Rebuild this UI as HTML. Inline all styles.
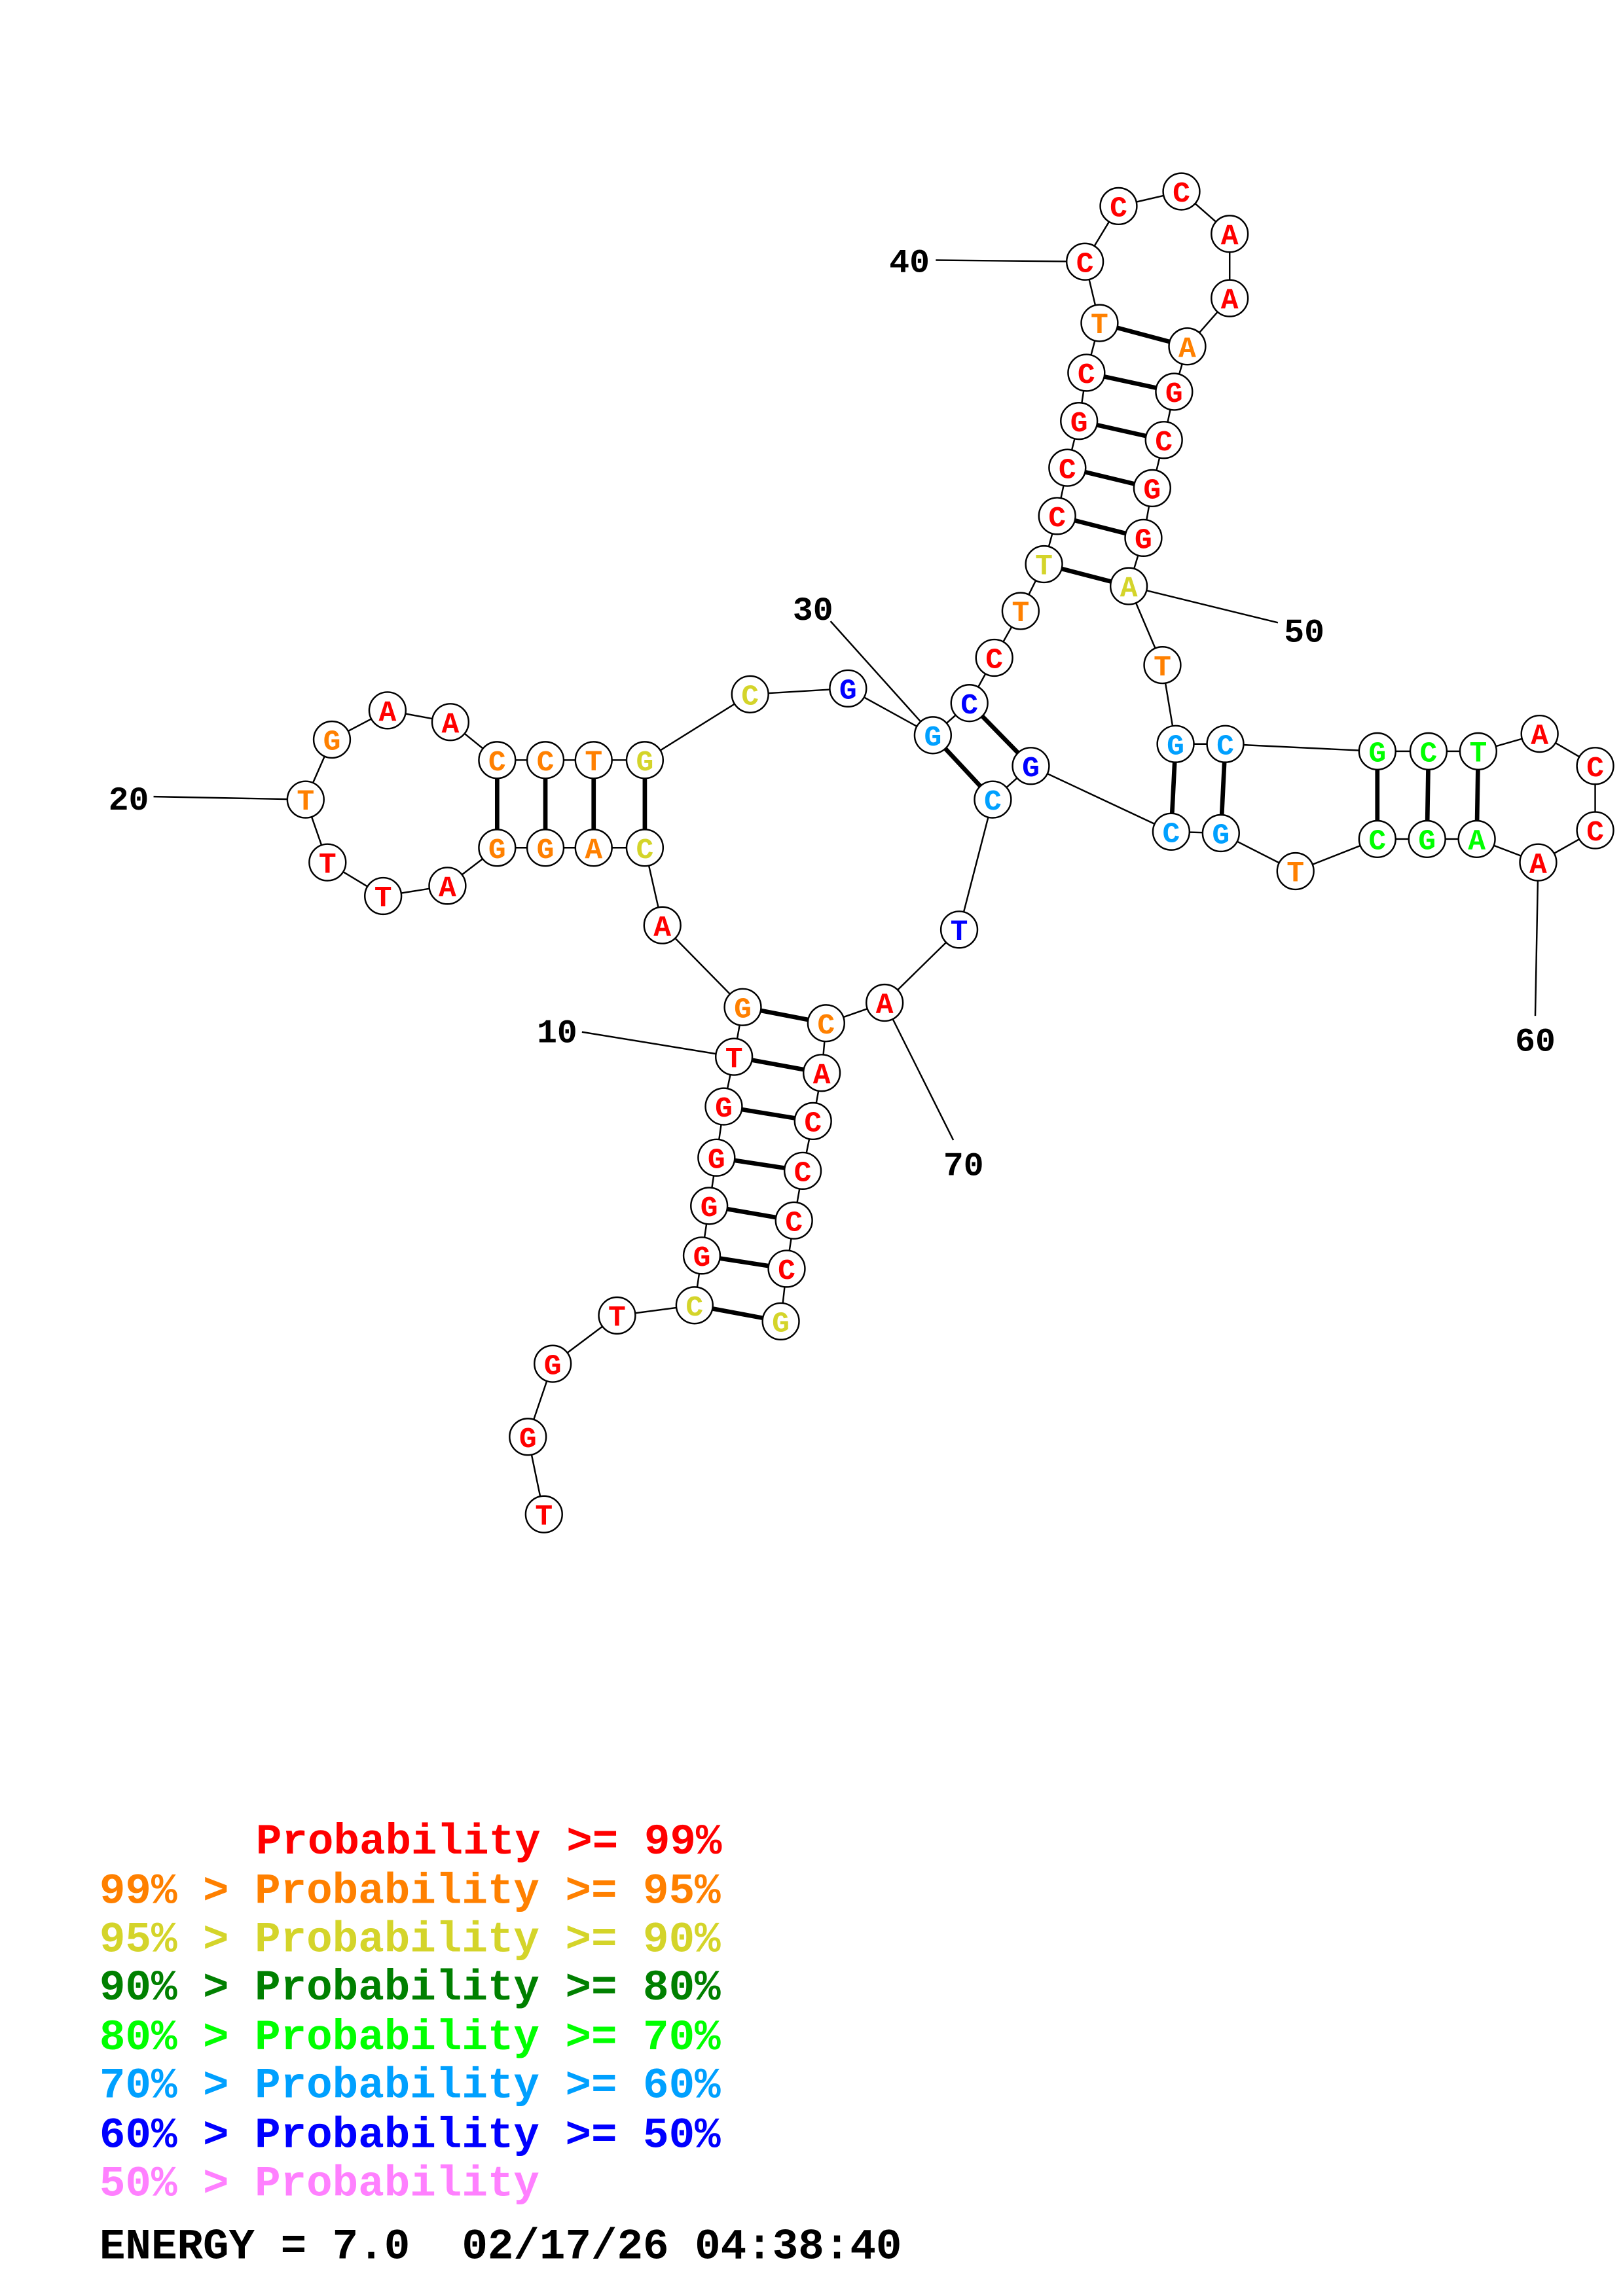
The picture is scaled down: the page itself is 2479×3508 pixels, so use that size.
<!DOCTYPE html>
<html><head><meta charset="utf-8"><style>html,body{margin:0;padding:0;background:#fff}svg{display:block}.pre{white-space:pre}</style></head>
<body>
<svg xmlns="http://www.w3.org/2000/svg" width="2479" height="3508" viewBox="0 0 1110 1570.8">
<rect width="1110" height="1571" fill="#fff"/>
<g stroke="#000" stroke-width="1.1">
<line x1="398" y1="706" x2="502" y2="723"/>
<line x1="105" y1="545" x2="209" y2="547"/>
<line x1="568" y1="425" x2="638" y2="503"/>
<line x1="640" y1="178" x2="742" y2="179"/>
<line x1="874" y1="426" x2="772" y2="401"/>
<line x1="1050" y1="695" x2="1052" y2="590"/>
<line x1="652" y1="780" x2="605" y2="686"/>
</g>
<polyline fill="none" stroke="#000" stroke-width="1.1" points="372,1036 361,983 378,933 422,900 475,893 480,859 485,825 490,792 495,757 502,723 508,689 453,633 441,580 406,580 373,580 340,580 306,606 262,613 224,590 209,547 227,506 265,486 308,494 340,520 373,520 406,520 441,520 513,475 580,471 638,503 663,481 680,450 698,418 714,386 723,353 730,320 738,288 743,255 752,221 742,179 765,141 808,131 841,160 841,204 812,237 803,268 796,301 788,334 782,368 772,401 795,455 804,509 838,509 942,514 977,514 1011,514 1053,502 1091,524 1091,568 1052,590 1010,574 976,574 942,574 886,596 835,570 801,569 705,524 679,547 656,636 605,686 565,700 562,734 556,767 549,801 543,835 538,868 534,904"/>
<g stroke="#000" stroke-width="3">
<line x1="475" y1="893" x2="534" y2="904"/><line x1="480" y1="859" x2="538" y2="868"/><line x1="485" y1="825" x2="543" y2="835"/><line x1="490" y1="792" x2="549" y2="801"/><line x1="495" y1="757" x2="556" y2="767"/><line x1="502" y1="723" x2="562" y2="734"/><line x1="508" y1="689" x2="565" y2="700"/>
<line x1="441" y1="580" x2="441" y2="520"/><line x1="406" y1="580" x2="406" y2="520"/><line x1="373" y1="580" x2="373" y2="520"/><line x1="340" y1="580" x2="340" y2="520"/>
<line x1="638" y1="503" x2="679" y2="547"/><line x1="663" y1="481" x2="705" y2="524"/>
<line x1="714" y1="386" x2="772" y2="401"/><line x1="723" y1="353" x2="782" y2="368"/><line x1="730" y1="320" x2="788" y2="334"/><line x1="738" y1="288" x2="796" y2="301"/><line x1="743" y1="255" x2="803" y2="268"/><line x1="752" y1="221" x2="812" y2="237"/>
<line x1="804" y1="509" x2="801" y2="569"/><line x1="838" y1="509" x2="835" y2="570"/>
<line x1="942" y1="514" x2="942" y2="574"/><line x1="977" y1="514" x2="976" y2="574"/><line x1="1011" y1="514" x2="1010" y2="574"/>
</g>
<g font-family="Liberation Mono, monospace" font-weight="bold" font-size="20" text-anchor="middle">
<g fill="#fff" stroke="#000" stroke-width="1.1">
<circle cx="372" cy="1036" r="12.5"/><circle cx="361" cy="983" r="12.5"/><circle cx="378" cy="933" r="12.5"/><circle cx="422" cy="900" r="12.5"/><circle cx="475" cy="893" r="12.5"/><circle cx="480" cy="859" r="12.5"/><circle cx="485" cy="825" r="12.5"/><circle cx="490" cy="792" r="12.5"/><circle cx="495" cy="757" r="12.5"/><circle cx="502" cy="723" r="12.5"/><circle cx="508" cy="689" r="12.5"/><circle cx="453" cy="633" r="12.5"/><circle cx="441" cy="580" r="12.5"/><circle cx="406" cy="580" r="12.5"/><circle cx="373" cy="580" r="12.5"/><circle cx="340" cy="580" r="12.5"/><circle cx="306" cy="606" r="12.5"/><circle cx="262" cy="613" r="12.5"/><circle cx="224" cy="590" r="12.5"/><circle cx="209" cy="547" r="12.5"/><circle cx="227" cy="506" r="12.5"/><circle cx="265" cy="486" r="12.5"/><circle cx="308" cy="494" r="12.5"/><circle cx="340" cy="520" r="12.5"/><circle cx="373" cy="520" r="12.5"/><circle cx="406" cy="520" r="12.5"/><circle cx="441" cy="520" r="12.5"/><circle cx="513" cy="475" r="12.5"/><circle cx="580" cy="471" r="12.5"/><circle cx="638" cy="503" r="12.5"/><circle cx="663" cy="481" r="12.5"/><circle cx="680" cy="450" r="12.5"/><circle cx="698" cy="418" r="12.5"/><circle cx="714" cy="386" r="12.5"/><circle cx="723" cy="353" r="12.5"/><circle cx="730" cy="320" r="12.5"/><circle cx="738" cy="288" r="12.5"/><circle cx="743" cy="255" r="12.5"/><circle cx="752" cy="221" r="12.5"/><circle cx="742" cy="179" r="12.5"/><circle cx="765" cy="141" r="12.5"/><circle cx="808" cy="131" r="12.5"/><circle cx="841" cy="160" r="12.5"/><circle cx="841" cy="204" r="12.5"/><circle cx="812" cy="237" r="12.5"/><circle cx="803" cy="268" r="12.5"/><circle cx="796" cy="301" r="12.5"/><circle cx="788" cy="334" r="12.5"/><circle cx="782" cy="368" r="12.5"/><circle cx="772" cy="401" r="12.5"/><circle cx="795" cy="455" r="12.5"/><circle cx="804" cy="509" r="12.5"/><circle cx="838" cy="509" r="12.5"/><circle cx="942" cy="514" r="12.5"/><circle cx="977" cy="514" r="12.5"/><circle cx="1011" cy="514" r="12.5"/><circle cx="1053" cy="502" r="12.5"/><circle cx="1091" cy="524" r="12.5"/><circle cx="1091" cy="568" r="12.5"/><circle cx="1052" cy="590" r="12.5"/><circle cx="1010" cy="574" r="12.5"/><circle cx="976" cy="574" r="12.5"/><circle cx="942" cy="574" r="12.5"/><circle cx="886" cy="596" r="12.5"/><circle cx="835" cy="570" r="12.5"/><circle cx="801" cy="569" r="12.5"/><circle cx="705" cy="524" r="12.5"/><circle cx="679" cy="547" r="12.5"/><circle cx="656" cy="636" r="12.5"/><circle cx="605" cy="686" r="12.5"/><circle cx="565" cy="700" r="12.5"/><circle cx="562" cy="734" r="12.5"/><circle cx="556" cy="767" r="12.5"/><circle cx="549" cy="801" r="12.5"/><circle cx="543" cy="835" r="12.5"/><circle cx="538" cy="868" r="12.5"/><circle cx="534" cy="904" r="12.5"/>
</g>
<g>
<text x="372" y="1043" fill="#f00">T</text><text x="361" y="990" fill="#f00">G</text><text x="378" y="940" fill="#f00">G</text><text x="422" y="907" fill="#f00">T</text><text x="475" y="900" fill="#d4d42a">C</text><text x="480" y="866" fill="#f00">G</text><text x="485" y="832" fill="#f00">G</text><text x="490" y="799" fill="#f00">G</text><text x="495" y="764" fill="#f00">G</text><text x="502" y="730" fill="#f00">T</text><text x="508" y="696" fill="#ff8000">G</text><text x="453" y="640" fill="#f00">A</text><text x="441" y="587" fill="#d4d42a">C</text><text x="406" y="587" fill="#ff8000">A</text><text x="373" y="587" fill="#ff8000">G</text><text x="340" y="587" fill="#ff8000">G</text><text x="306" y="613" fill="#f00">A</text><text x="262" y="620" fill="#f00">T</text><text x="224" y="597" fill="#f00">T</text><text x="209" y="554" fill="#ff8000">T</text><text x="227" y="513" fill="#ff8000">G</text><text x="265" y="493" fill="#f00">A</text><text x="308" y="501" fill="#f00">A</text><text x="340" y="527" fill="#ff8000">C</text><text x="373" y="527" fill="#ff8000">C</text><text x="406" y="527" fill="#ff8000">T</text><text x="441" y="527" fill="#d4d42a">G</text><text x="513" y="482" fill="#d4d42a">C</text><text x="580" y="478" fill="#00f">G</text><text x="638" y="510" fill="#00a0ff">G</text><text x="663" y="488" fill="#00f">C</text><text x="680" y="457" fill="#f00">C</text><text x="698" y="425" fill="#ff8000">T</text><text x="714" y="393" fill="#d4d42a">T</text><text x="723" y="360" fill="#f00">C</text><text x="730" y="327" fill="#f00">C</text><text x="738" y="295" fill="#f00">G</text><text x="743" y="262" fill="#f00">C</text><text x="752" y="228" fill="#ff8000">T</text><text x="742" y="186" fill="#f00">C</text><text x="765" y="148" fill="#f00">C</text><text x="808" y="138" fill="#f00">C</text><text x="841" y="167" fill="#f00">A</text><text x="841" y="211" fill="#f00">A</text><text x="812" y="244" fill="#ff8000">A</text><text x="803" y="275" fill="#f00">G</text><text x="796" y="308" fill="#f00">C</text><text x="788" y="341" fill="#f00">G</text><text x="782" y="375" fill="#f00">G</text><text x="772" y="408" fill="#d4d42a">A</text><text x="795" y="462" fill="#ff8000">T</text><text x="804" y="516" fill="#00a0ff">G</text><text x="838" y="516" fill="#00a0ff">C</text><text x="942" y="521" fill="#00ff00">G</text><text x="977" y="521" fill="#00ff00">C</text><text x="1011" y="521" fill="#00ff00">T</text><text x="1053" y="509" fill="#f00">A</text><text x="1091" y="531" fill="#f00">C</text><text x="1091" y="575" fill="#f00">C</text><text x="1052" y="597" fill="#f00">A</text><text x="1010" y="581" fill="#00ff00">A</text><text x="976" y="581" fill="#00ff00">G</text><text x="942" y="581" fill="#00ff00">C</text><text x="886" y="603" fill="#ff8000">T</text><text x="835" y="577" fill="#00a0ff">G</text><text x="801" y="576" fill="#00a0ff">C</text><text x="705" y="531" fill="#00f">G</text><text x="679" y="554" fill="#00a0ff">C</text><text x="656" y="643" fill="#00f">T</text><text x="605" y="693" fill="#f00">A</text><text x="565" y="707" fill="#ff8000">C</text><text x="562" y="741" fill="#f00">A</text><text x="556" y="774" fill="#f00">C</text><text x="549" y="808" fill="#f00">C</text><text x="543" y="842" fill="#f00">C</text><text x="538" y="875" fill="#f00">C</text><text x="534" y="911" fill="#d4d42a">G</text>
</g>
</g>
<g font-family="Liberation Mono, monospace" font-weight="bold" font-size="23" fill="#000" text-anchor="middle">
<text x="381" y="713">10</text><text x="88" y="554">20</text><text x="556" y="424">30</text><text x="622" y="186">40</text><text x="892" y="439">50</text><text x="1050" y="719">60</text><text x="659" y="804">70</text>
</g>
<g font-family="Liberation Mono, monospace" font-weight="bold" font-size="29.5" class="pre">
<text x="175" y="1268" fill="#f00">Probability &gt;= 99%</text>
<text x="68" y="1302" fill="#ff8000">99% &gt; Probability &gt;= 95%</text>
<text x="68" y="1335" fill="#d4d42a">95% &gt; Probability &gt;= 90%</text>
<text x="68" y="1368" fill="#008000">90% &gt; Probability &gt;= 80%</text>
<text x="68" y="1402" fill="#00ff00">80% &gt; Probability &gt;= 70%</text>
<text x="68" y="1435" fill="#00a0ff">70% &gt; Probability &gt;= 60%</text>
<text x="68" y="1469" fill="#00f">60% &gt; Probability &gt;= 50%</text>
<text x="68" y="1502" fill="#ff80ff">50% &gt; Probability</text>
<text x="68" y="1545" fill="#000" style="white-space:pre">ENERGY = 7.0  02/17/26 04:38:40</text>
</g>
</svg>
</body></html>
